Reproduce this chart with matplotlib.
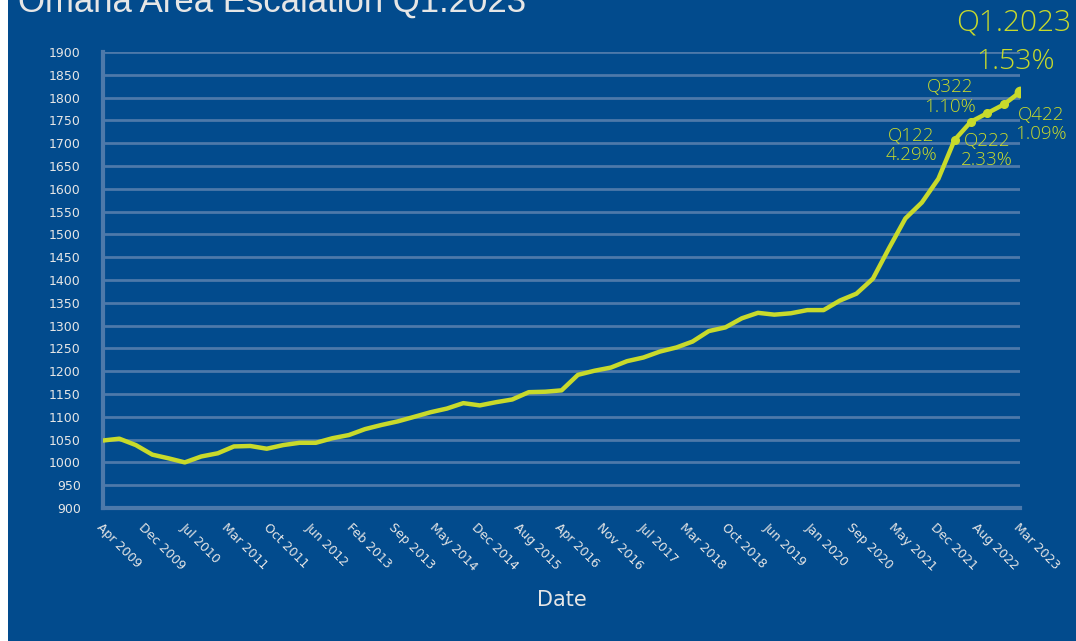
import numpy as np
import pandas as pd
import matplotlib
matplotlib.use("Agg")
import matplotlib.pyplot as plt
import matplotlib.dates as mdates

# ==========================================
# Omaha area escalation index, quarterly
# ==========================================

dates = pd.date_range("2009-03-31", "2023-03-31", freq="QE")

index_values = [
    1048, 1052, 1038, 1017, 1009, 1000, 1013, 1020, 1035, 1036,
    1030, 1038, 1043, 1043, 1053, 1060, 1073, 1082, 1090, 1100,
    1110, 1118, 1130, 1125, 1132, 1138, 1154, 1155, 1158, 1192,
    1201, 1208, 1222, 1230, 1243, 1252, 1265, 1288, 1296, 1316,
    1328, 1324, 1327, 1334, 1334, 1355, 1370, 1403, 1470, 1535,
    1570, 1622, 1707, 1747, 1766, 1785, 1812,
]

tick_labels = [
    "Apr 2009", "Dec 2009", "Jul 2010", "Mar 2011", "Oct 2011", "Jun 2012",
    "Feb 2013", "Sep 2013", "May 2014", "Dec 2014", "Aug 2015", "Apr 2016",
    "Nov 2016", "Jul 2017", "Mar 2018", "Oct 2018", "Jun 2019", "Jan 2020",
    "Sep 2020", "May 2021", "Dec 2021", "Aug 2022", "Mar 2023",
]

y_ticks = list(range(900, 1901, 50))

# last five quarters get a dot + label
quarter_names = ["Q122", "Q222", "Q322", "Q422"]
quarter_pcts = ["4.29%", "2.33%", "1.10%", "1.09%"]
latest_name = "Q1.2023"
latest_pct = "1.53%"

BG = "#024b8d"
LINE = "#c8da2b"
GRID = "#4d79aa"
TXT = "#e6e6e6"

fig = plt.figure(figsize=(10.76, 6.41), dpi=100, facecolor=BG)
fig.patches.append(plt.Rectangle((0, 0), 8 / 1076, 1, transform=fig.transFigure,
                                 facecolor="white", edgecolor="none", zorder=-1))
ax = fig.add_axes([103 / 1076, 1 - 508 / 641, (1020 - 103) / 1076, (508 - 52) / 641])
ax.set_facecolor(BG)

x = mdates.date2num(dates)
ax.plot(x, index_values, color=LINE, lw=3.2, solid_capstyle="round", zorder=3)
ax.plot(x[-5:-1], index_values[-5:-1], "o", color=LINE, ms=5.5, zorder=4)
ax.plot(x[-1], index_values[-1], "o", color=LINE, ms=7.5, zorder=4)

ax.set_xlim(x[0], x[-1])
ax.set_ylim(900, 1900)
ax.set_yticks(y_ticks)
ax.set_xticks(np.linspace(x[0], x[-1], len(tick_labels)))
ax.set_xticklabels(tick_labels, rotation=-45, ha="left", va="top", rotation_mode="anchor")

ax.grid(axis="y", color=GRID, lw=2)
ax.set_axisbelow(True)
for side in ["top", "right"]:
    ax.spines[side].set_visible(False)
for side in ["left", "bottom"]:
    ax.spines[side].set_color(GRID)
    ax.spines[side].set_linewidth(3)
ax.tick_params(axis="y", length=0, pad=16, labelsize=9, labelcolor=TXT)
ax.tick_params(axis="x", length=0, pad=9, labelsize=9, labelcolor=TXT)

ax.set_xlabel("Date", color=TXT, fontsize=15, labelpad=12)

# annotations (offsets in points from each dot)
ann_font = ["Open Sans", "DejaVu Sans"]
ann_weight = 300
offsets = [(-31, -4), (11.5, -20.5), (-27, 11.5), (26.5, -14.5)]
for i, (nm, pc) in enumerate(zip(quarter_names, quarter_pcts)):
    dx, dy = offsets[i]
    ax.annotate(f"{nm}\n{pc}", (x[-5 + i], index_values[-5 + i]), xytext=(dx, dy),
                textcoords="offset points", ha="center", va="center", color=LINE,
                fontsize=13.5, family=ann_font, fontweight=ann_weight,
                linespacing=1.1, annotation_clip=False)

ax.annotate(latest_name, (x[-1], index_values[-1]), xytext=(-4.5, 50),
            textcoords="offset points", ha="center", va="center", color=LINE,
            fontsize=21.5, family=ann_font, fontweight=ann_weight, annotation_clip=False)
ax.annotate(latest_pct, (x[-1], index_values[-1]), xytext=(-3, 21.5),
            textcoords="offset points", ha="center", va="center", color=LINE,
            fontsize=20.5, family=ann_font, fontweight=ann_weight, annotation_clip=False)

fig.text(18 / 1076, 1 - 12 / 641, "Omaha Area Escalation Q1.2023", color=TXT,
         fontsize=25, family=["Liberation Sans", "DejaVu Sans"], va="baseline", ha="left")

fig.savefig("out.png", dpi=100, facecolor=BG)
